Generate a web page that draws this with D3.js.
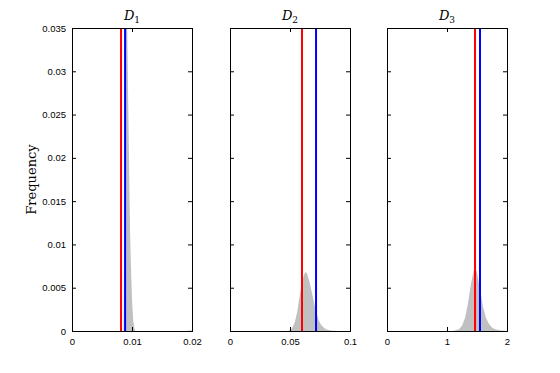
<!DOCTYPE html>
<html>
<head>
<meta charset="utf-8">
<script src="https://cdn.jsdelivr.net/npm/d3@7"></script>
<style>
  body { margin: 0; background: #fff; }
  .tick text { font-family: "Liberation Sans", Arial, sans-serif; font-size: 9.5px; fill: #000; }
</style>
</head>
<body>
<div id="chart"></div>
<script>
// panel names and x axes
var panelNames = ["1", "2", "3"];
var xDomains = [[0, 0.02], [0, 0.1], [0, 2]];
var xTicks = [[0, 0.01, 0.02], [0, 0.05, 0.1], [0, 1, 2]];
var xTickLabels = [["0", "0.01", "0.02"], ["0", "0.05", "0.1"], ["0", "1", "2"]];
var yTicks = [0, 0.005, 0.01, 0.015, 0.02, 0.025, 0.03, 0.035];
var yTickLabels = ["0", "0.005", "0.01", "0.015", "0.02", "0.025", "0.03", "0.035"];

// vertical reference lines (red, blue)
var redValues = [0.00817, 0.060, 1.467];
var blueValues = [0.00885, 0.0717, 1.55];

// gray densities
var d1x = [0.0086, 0.0087, 0.0088, 0.0089, 0.0090, 0.0091, 0.0092, 0.0094, 0.0096, 0.0097, 0.0098, 0.0100, 0.0102, 0.0104, 0.0106, 0.0190, 0.0200];
var d1y = [0, 0.012, 0.05, 0.08, 0.09, 0.06, 0.035, 0.025, 0.015, 0.011, 0.008, 0.0036, 0.0012, 0.0003, 0, 0, 0.0001];
var d2x = [0.048, 0.050, 0.052, 0.054, 0.056, 0.058, 0.060, 0.062, 0.063, 0.064, 0.066, 0.068, 0.070, 0.072, 0.074, 0.076, 0.078, 0.080, 0.084, 0.090];
var d2y = [0, 0.0001, 0.0004, 0.0010, 0.0022, 0.0040, 0.0057, 0.0066, 0.0068, 0.0067, 0.0058, 0.0046, 0.0033, 0.0021, 0.0012, 0.0007, 0.0004, 0.0002, 0.00006, 0];
var d3x = [1.10, 1.20, 1.25, 1.30, 1.35, 1.40, 1.45, 1.47, 1.50, 1.55, 1.60, 1.65, 1.70, 1.75, 1.80, 1.90, 2.00];
var d3y = [0, 0.0002, 0.0006, 0.0015, 0.0032, 0.0055, 0.0071, 0.0073, 0.0068, 0.0048, 0.0028, 0.0015, 0.0008, 0.0004, 0.0002, 0.00005, 0];
var densX = [d1x, d2x, d3x];
var densY = [d1y, d2y, d3y];

var width = 560, height = 373;
var plotTop = 28, plotBottom = 331, pw = 120;
var lefts = [72, 230, 387];

var svg = d3.select("#chart").append("svg")
    .attr("width", width).attr("height", height);

var y = d3.scaleLinear().domain([0, 0.035]).range([plotBottom, plotTop]);

svg.append("text")
    .attr("transform", "translate(36," + (plotTop + plotBottom) / 2 + ") rotate(-90)")
    .attr("text-anchor", "middle")
    .style("font-family", "'DejaVu Serif', 'Liberation Serif', serif")
    .style("font-size", "13px")
    .text("Frequency");

panelNames.forEach(function(name, i) {
    var x = d3.scaleLinear().domain(xDomains[i]).range([lefts[i], lefts[i] + pw]);
    var g = svg.append("g");

    g.append("clipPath").attr("id", "clip" + i)
      .append("rect").attr("x", lefts[i]).attr("y", plotTop).attr("width", pw).attr("height", plotBottom - plotTop);

    var pts = densX[i].map(function(v, j) { return [v, densY[i][j]]; });
    var area = d3.area()
        .x(function(d) { return x(d[0]); })
        .y0(y(0))
        .y1(function(d) { return y(d[1]); });
    g.append("path")
        .datum(pts)
        .attr("d", area)
        .attr("fill", "#c0c0c0")
        .attr("clip-path", "url(#clip" + i + ")");

    g.append("line")
        .attr("x1", x(redValues[i])).attr("x2", x(redValues[i]))
        .attr("y1", plotTop).attr("y2", plotBottom)
        .attr("stroke", "#ff0000").attr("stroke-width", 2);
    g.append("line")
        .attr("x1", x(blueValues[i])).attr("x2", x(blueValues[i]))
        .attr("y1", plotTop).attr("y2", plotBottom)
        .attr("stroke", "#0000ff").attr("stroke-width", 2);

    // axes with inward ticks, mirrored on every side
    var xb = g.append("g").attr("transform", "translate(0," + plotBottom + ")")
        .call(d3.axisBottom(x).tickValues(xTicks[i]).tickSize(-4).tickPadding(7)
            .tickFormat(function(d, k) { return xTickLabels[i][k]; }));
    var xt = g.append("g").attr("transform", "translate(0," + plotTop + ")")
        .call(d3.axisTop(x).tickValues(xTicks[i]).tickSize(-4).tickFormat(""));
    var yl = g.append("g").attr("transform", "translate(" + lefts[i] + ",0)")
        .call(d3.axisLeft(y).tickValues(yTicks).tickSize(-4).tickPadding(6)
            .tickFormat(function(d, k) { return i === 0 ? yTickLabels[k] : ""; }));
    var yr = g.append("g").attr("transform", "translate(" + (lefts[i] + pw) + ",0)")
        .call(d3.axisRight(y).tickValues(yTicks).tickSize(-4).tickFormat(""));
    [xb, xt, yl, yr].forEach(function(a) {
        a.selectAll("path, line").attr("stroke", "#000");
    });

    var title = g.append("text")
        .attr("x", lefts[i] + pw / 2)
        .attr("y", 20)
        .attr("text-anchor", "middle")
        .style("font-family", "'DejaVu Serif', 'Liberation Serif', serif")
        .style("font-size", "13px");
    title.append("tspan").style("font-style", "italic").text("D");
    title.append("tspan").attr("dy", 3).style("font-size", "9px").text(name);
});
</script>
</body>
</html>
